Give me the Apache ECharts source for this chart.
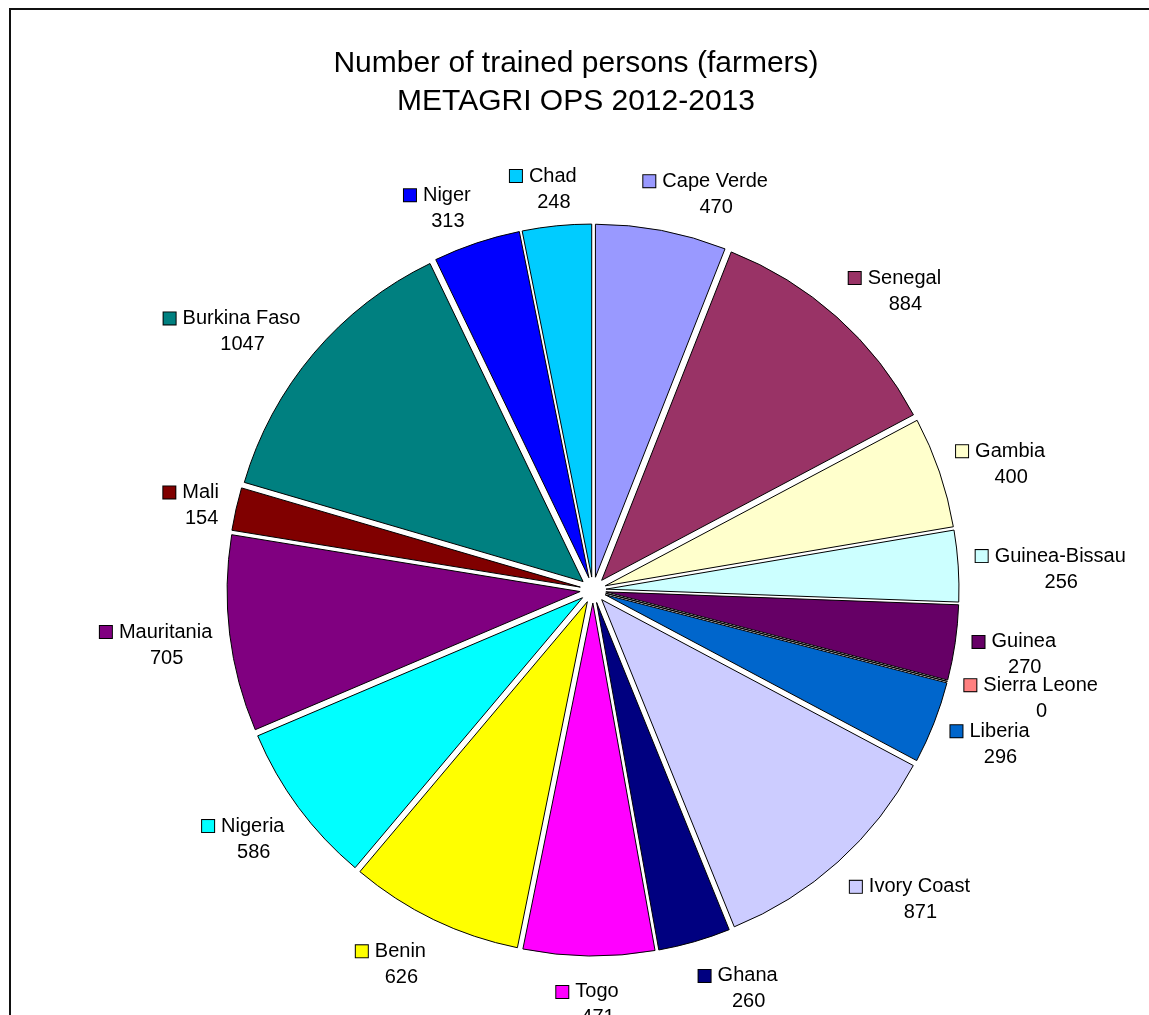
<!DOCTYPE html>
<html>
<head>
<meta charset="utf-8">
<script src="https://cdn.jsdelivr.net/npm/echarts@6/dist/echarts.min.js"></script>
<style>
html,body{margin:0;padding:0;background:#fff;}
#chart{width:1149px;height:1015px;}
</style>
</head>
<body>
<div id="chart"></div>
<script>
const titleLines = ['Number of trained persons (farmers)', 'METAGRI OPS 2012-2013'];
const countries = ['Cape Verde','Senegal','Gambia','Guinea-Bissau','Guinea','Sierra Leone','Liberia','Ivory Coast','Ghana','Togo','Benin','Nigeria','Mauritania','Mali','Burkina Faso','Niger','Chad'];
const trained = [470,884,400,256,270,0,296,871,260,471,626,586,705,154,1047,313,248];
const colors = ['#9999FF','#993366','#FFFFCC','#CCFFFF','#660066','#FF8080','#0066CC','#CCCCFF','#000080','#FF00FF','#FFFF00','#00FFFF','#800080','#800000','#008080','#0000FF','#00CCFF'];

const FONT = 'Arial, "Liberation Sans", sans-serif';
const CX = 593, CY = 590, R = 353, LABEL_R = 383;
const total = trained.reduce((a, b) => a + b, 0);
const midAngles = [];
let acc = 0;
trained.forEach(v => { const a0 = acc; acc += v; midAngles.push(((a0 + acc) / 2) / total * 2 * Math.PI); });

const sliceData = countries.map((c, i) => ({
  name: c,
  value: trained[i],
  selected: true,
  itemStyle: { color: colors[i] }
}));

const labelData = countries.map((c, i) => ({
  name: c,
  value: trained[i],
  label: {
    rich: {
      sq: { width: 12, height: 12, backgroundColor: colors[i], borderColor: '#000', borderWidth: 1 },
      nm: { fontSize: 20, fontFamily: FONT, color: '#000', lineHeight: 26, padding: [0, 0, 0, 7] },
      vl: { fontSize: 20, fontFamily: FONT, color: '#000', lineHeight: 26, padding: [0, 0, 0, 21] }
    }
  }
}));

const clamp1 = t => Math.max(-1, Math.min(1, t));

const chart = echarts.init(document.getElementById('chart'));
chart.setOption({
  animation: false,
  backgroundColor: '#fff',
  title: {
    text: titleLines.join('\n'),
    left: 576,
    top: 45,
    textAlign: 'center',
    padding: 0,
    textStyle: { fontSize: 30, lineHeight: 38, fontWeight: 'normal', color: '#000', fontFamily: FONT }
  },
  graphic: [{
    type: 'rect',
    shape: { x: 10, y: 9, width: 1300, height: 1200 },
    style: { fill: 'none', stroke: '#111', lineWidth: 2 },
    silent: true
  }],
  series: [{
    type: 'pie',
    center: [CX, CY],
    radius: R,
    startAngle: 90,
    clockwise: true,
    selectedMode: 'multiple',
    selectedOffset: 13,
    itemStyle: { borderColor: '#000', borderWidth: 1 },
    select: { itemStyle: { borderColor: '#000', borderWidth: 1 } },
    emphasis: { disabled: true },
    label: { show: false },
    labelLine: { show: false },
    data: sliceData
  }, {
    type: 'pie',
    center: [CX, CY],
    radius: R,
    startAngle: 90,
    clockwise: true,
    silent: true,
    avoidLabelOverlap: false,
    selectedMode: false,
    itemStyle: { color: 'rgba(0,0,0,0)', borderWidth: 0 },
    emphasis: { disabled: true },
    labelLine: { show: false },
    label: {
      show: true,
      position: 'outside',
      formatter: p => '{sq|}{nm|' + p.name + '}\n{vl|' + p.value + '}'
    },
    labelLayout: function (params) {
      const a = midAngles[params.dataIndex];
      const dx = Math.sin(a), dy = -Math.cos(a);
      const w = params.labelRect.width, h = params.labelRect.height;
      return {
        x: CX + dx * LABEL_R + clamp1(3.5 * dx) * w / 2,
        y: CY + dy * (LABEL_R + 3) + dy * h / 2 + 6,
        align: 'center',
        verticalAlign: 'middle'
      };
    },
    data: labelData
  }]
});
</script>
</body>
</html>
